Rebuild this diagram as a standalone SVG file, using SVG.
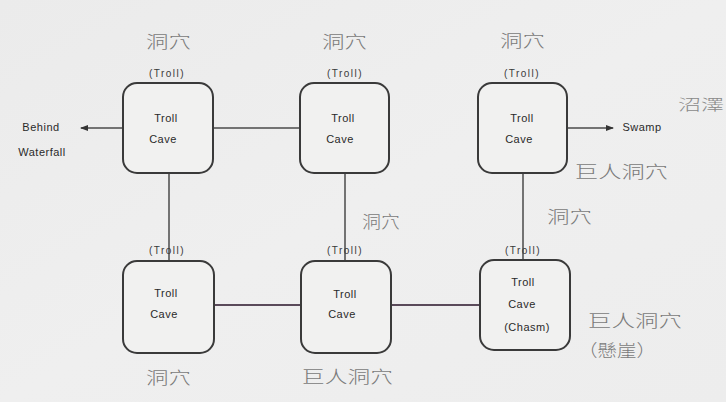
<svg xmlns="http://www.w3.org/2000/svg" width="726" height="402" viewBox="0 0 726 402">
<defs>
<marker id="ah" markerWidth="8" markerHeight="6" refX="7" refY="3" orient="auto" markerUnits="userSpaceOnUse">
<path d="M0,0 L8,3 L0,6 z" fill="#333"/>
</marker>
<linearGradient id="bg" x1="0" y1="0" x2="1" y2="1">
<stop offset="0" stop-color="#ebebeb"/>
<stop offset="0.5" stop-color="#efefef"/>
<stop offset="1" stop-color="#ededed"/>
</linearGradient>
</defs>
<style>
.box{fill:#f1f1f0;stroke:#3a3a3a;stroke-width:2}
.ln{stroke:#4a4a4a;stroke-width:1.5;fill:none}
.lp{stroke:#5a4a5a;stroke-width:2;fill:none}
.en{font-family:"Liberation Sans",Arial,sans-serif;font-size:11px;letter-spacing:0.5px;fill:#2a2a2a;text-anchor:middle}
.sm{font-family:"Liberation Sans",Arial,sans-serif;font-size:10px;letter-spacing:1.5px;fill:#3a3a3a;text-anchor:middle}
.zh{font-family:"Noto Sans CJK TC","Noto Sans CJK SC",sans-serif;font-size:17px;font-weight:300;fill:#7a7a7a;text-anchor:start}
</style>
<rect width="726" height="402" fill="url(#bg)"/>
<g id="connectors">
<line class="ln" x1="213" y1="128" x2="300" y2="128"/>
<line class="ln" x1="169" y1="173" x2="169" y2="261"/>
<line class="ln" x1="345" y1="173" x2="345" y2="261"/>
<line class="ln" x1="523" y1="173" x2="523" y2="260"/>
<line class="lp" x1="214" y1="305" x2="301" y2="305"/>
<line class="lp" x1="391" y1="305" x2="480" y2="305"/>
<line class="ln" x1="123" y1="128" x2="81" y2="128" marker-end="url(#ah)"/>
<line class="ln" x1="567" y1="128" x2="613" y2="128" marker-end="url(#ah)"/>
</g>
<g id="n1">
<rect class="box" x="123" y="83" width="90" height="90" rx="14"/>
<text class="zh" x="146" y="48" textLength="45" lengthAdjust="spacingAndGlyphs">洞穴</text>
<text class="sm" x="167" y="77">(Troll)</text>
<text class="en" x="166" y="122">Troll</text>
<text class="en" x="163" y="143">Cave</text>
</g>
<g id="n2">
<rect class="box" x="300" y="83" width="89" height="90" rx="14"/>
<text class="zh" x="322" y="48" textLength="45" lengthAdjust="spacingAndGlyphs">洞穴</text>
<text class="sm" x="345" y="77">(Troll)</text>
<text class="en" x="343" y="122">Troll</text>
<text class="en" x="340" y="143">Cave</text>
</g>
<g id="n3">
<rect class="box" x="478" y="83" width="89" height="90" rx="14"/>
<text class="zh" x="500" y="47" textLength="45" lengthAdjust="spacingAndGlyphs">洞穴</text>
<text class="sm" x="522" y="77">(Troll)</text>
<text class="en" x="522" y="122">Troll</text>
<text class="en" x="519" y="143">Cave</text>
</g>
<g id="n4">
<rect class="box" x="123" y="261" width="91" height="92" rx="14"/>
<text class="sm" x="167" y="254">(Troll)</text>
<text class="en" x="166" y="297">Troll</text>
<text class="en" x="164" y="318">Cave</text>
<text class="zh" x="146" y="384" textLength="45" lengthAdjust="spacingAndGlyphs">洞穴</text>
</g>
<g id="n5">
<rect class="box" x="301" y="261" width="90" height="92" rx="14"/>
<text class="sm" x="345" y="254">(Troll)</text>
<text class="en" x="345" y="298">Troll</text>
<text class="en" x="342" y="318">Cave</text>
<text class="zh" x="302" y="383" textLength="91" lengthAdjust="spacingAndGlyphs">巨人洞穴</text>
</g>
<g id="n6">
<rect class="box" x="480" y="260" width="90" height="90" rx="14"/>
<text class="sm" x="523" y="254">(Troll)</text>
<text class="en" x="523" y="286">Troll</text>
<text class="en" x="522" y="308">Cave</text>
<text class="en" x="527" y="331">(Chasm)</text>
</g>
<g id="labels">
<text class="en" x="41" y="131">Behind</text>
<text class="en" x="42" y="156">Waterfall</text>
<text class="en" x="642" y="131">Swamp</text>
<text class="zh" x="678" y="110" style="font-size:15px;fill:#8a8a8a" textLength="46" lengthAdjust="spacingAndGlyphs">沼澤</text>
<text class="zh" x="575" y="178" textLength="93" lengthAdjust="spacingAndGlyphs">巨人洞穴</text>
<text class="zh" x="362" y="228" textLength="38" lengthAdjust="spacingAndGlyphs">洞穴</text>
<text class="zh" x="547" y="223" textLength="45" lengthAdjust="spacingAndGlyphs">洞穴</text>
<text class="zh" x="588" y="327" textLength="94" lengthAdjust="spacingAndGlyphs">巨人洞穴</text>
<text class="zh" x="578" y="357" textLength="78" lengthAdjust="spacingAndGlyphs">（懸崖）</text>
</g>
</svg>
